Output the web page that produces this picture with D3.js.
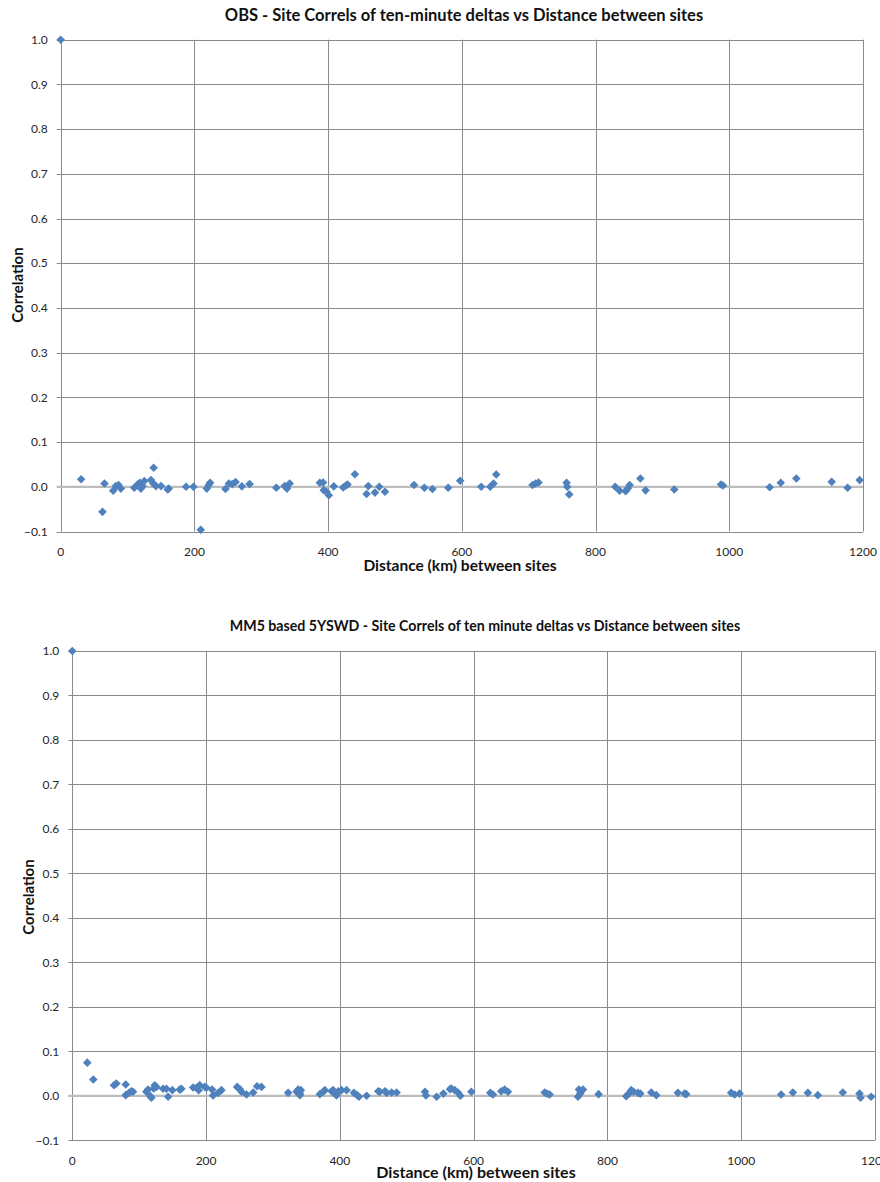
<!DOCTYPE html>
<html>
<head>
<meta charset="utf-8">
<script src="https://cdn.jsdelivr.net/npm/d3@7"></script>
<style>
  html, body { margin: 0; padding: 0; background: #fff; }
  svg { display: block; font-family: Lato, "Open Sans", sans-serif; }
</style>
</head>
<body>
<svg id="chart" width="880" height="1182"></svg>
<script>
// ---------- DATA ----------
const xTicks = [0, 200, 400, 600, 800, 1000, 1200];
const yTicks = [-0.1, 0.0, 0.1, 0.2, 0.3, 0.4, 0.5, 0.6, 0.7, 0.8, 0.9, 1.0];

const obsTitle = "OBS - Site Correls of ten-minute deltas vs Distance between sites";
const obsDistance = [0, 30.5, 62.5, 65.5, 78.5, 82.5, 86.5, 90, 110, 115, 118.5, 120, 125, 122.5, 135, 139, 138.5, 142.5, 150, 160, 161.5,
  187.5, 198.5, 209.5, 218.5, 221.5, 223.5, 246.5, 251.5, 256.5, 261.5, 271, 282.5, 322.5, 335, 338.5, 342.5,
  387.5, 392.5, 393.5, 397.5, 401, 408.5, 422.5, 426.5, 429, 440, 457.5, 460, 470, 476.5, 485, 528.5, 544, 556, 579.5,
  597.5, 629, 642.4, 647.4, 651.4, 705.7, 710.2, 714.7, 756.6, 757.6, 760.6, 829.4, 836, 845, 848, 851, 867, 874.8,
  917.7, 987.6, 990.6, 1060.5, 1077, 1100.3, 1153.2, 1177, 1195];
const obsCorrel = [1.0, 0.017, -0.056, 0.0075, -0.009, 0.0015, 0.004, -0.004, -0.002, 0.005, 0.009, -0.004, 0.013, 0.0015, 0.015, 0.0425, 0.0075, 0.0015, 0.0015, -0.006, -0.004,
  0, 0, -0.096, -0.004, 0.004, 0.009, -0.005, 0.0075, 0.006, 0.0105, 0.001, 0.006, -0.002, 0.0015, -0.004, 0.0075,
  0.009, 0.0095, -0.0075, -0.011, -0.019, 0.001, -0.0015, 0.003, 0.005, 0.028, -0.016, 0.0015, -0.013, 0, -0.011, 0.004, -0.002, -0.005, -0.002,
  0.0134, 0, 0, 0.0075, 0.0276, 0.004, 0.0075, 0.0097, 0.009, 0, -0.017, 0, -0.009, -0.0097, -0.004, 0.004, 0.0187, -0.008,
  -0.006, 0.005, 0.003, -0.001, 0.009, 0.0187, 0.011, -0.002, 0.015];

const mm5Title = "MM5 based 5YSWD - Site Correls of ten minute deltas vs Distance between sites";
const mm5Distance = [0, 22.4, 31.4, 62.3, 65.8, 79.8, 79.8, 84.8, 88.3, 90.8, 110.7, 113.2, 116.7, 118.2, 121.7, 123.2, 125.7, 135.7, 140.7, 143.2, 149.6,
  160.6, 163.1, 180.6, 185.6, 190.5, 189, 198, 200.5, 209, 210.5, 218, 223, 246.4, 250.4, 252.9, 260.4, 270.4, 276.3, 282.8,
  322.7, 335.2, 337.7, 340.2, 341.7, 340.2, 370.1, 375.1, 377.6, 387.6, 390, 392.6, 395, 397.6, 402.5, 410, 421, 426, 428.5, 440,
  457.4, 459.9, 467.4, 469.9, 477.4, 484.8, 527.2, 528.7, 544.7, 554.7, 564.6, 566.6, 571.6, 576.6, 580.1, 596.5,
  624.9, 628.9, 641.3, 646.3, 651.3, 706.1, 709.6, 713.6, 755.9, 757.4, 759.4, 763.4, 786.8, 828.1, 832.1, 835.6, 839.1, 845.6, 849.1,
  865.5, 873, 905.3, 915.3, 917.8, 985, 990, 997.5, 1059.7, 1077.2, 1099.6, 1114.5, 1151.9, 1176.8, 1178.3, 1194.2];
const mm5Correl = [1.0, 0.0746, 0.0366, 0.0239, 0.0276, 0.0254, 0.0015, 0.0067, 0.0104, 0.009, 0.009, 0.014, -0.0007, -0.0045, 0.0164, 0.0239, 0.02, 0.016, 0.016, -0.002, 0.0127,
  0.014, 0.016, 0.0187, 0.018, 0.024, 0.0127, 0.02, 0.018, 0.014, 0.0007, 0.0067, 0.0127, 0.02, 0.015, 0.009, 0.003, 0.0075, 0.0216, 0.02,
  0.0067, 0.009, 0.014, 0.005, 0.0127, 0.0015, 0.0037, 0.009, 0.0127, 0.0104, 0.0127, 0.005, 0.0007, 0.0104, 0.0127, 0.0127, 0.0067, 0.0015, -0.002, 0,
  0.0104, 0.009, 0.0104, 0.0067, 0.0075, 0.0075, 0.009, 0.0007, -0.002, 0.005, 0.015, 0.0164, 0.0127, 0.0075, 0, 0.009,
  0.0067, 0.003, 0.0104, 0.014, 0.009, 0.0075, 0.005, 0.003, -0.002, 0.014, 0.005, 0.014, 0.0037, -0.0007, 0.005, 0.0127, 0.009, 0.0067, 0.005,
  0.0075, 0.0015, 0.0067, 0.005, 0.0037, 0.0067, 0.003, 0.005, 0.003, 0.0075, 0.0067, 0.0015, 0.0075, 0.005, -0.0045, -0.002];

const xLabel = "Distance (km) between sites";
const yLabel = "Correlation";

// ---------- DRAW ----------
const svg = d3.select("#chart");
const markerColor = "#4F81BD";
const gridColor = "#8a8a8a";

function drawPanel(opt) {
  const x = d3.scaleLinear().domain([0, 1200]).range([opt.left, opt.right]);
  const y = d3.scaleLinear().domain([-0.1, 1.0]).range([opt.bottom, opt.top]);
  const g = svg.append("g");

  g.append("g").selectAll("line").data(yTicks.filter(v => Math.abs(v) > 1e-9)).join("line")
    .attr("x1", opt.left - 4).attr("x2", opt.right)
    .attr("y1", d => Math.round(y(d)) + 0.5).attr("y2", d => Math.round(y(d)) + 0.5)
    .attr("stroke", gridColor).attr("stroke-width", 1);

  g.append("g").selectAll("line").data(xTicks.filter(v => v > 0)).join("line")
    .attr("x1", d => Math.round(x(d)) + 0.5).attr("x2", d => Math.round(x(d)) + 0.5)
    .attr("y1", opt.top).attr("y2", opt.bottom)
    .attr("stroke", gridColor).attr("stroke-width", 1);

  g.append("line")
    .attr("x1", Math.round(opt.left) + 0.5).attr("x2", Math.round(opt.left) + 0.5)
    .attr("y1", opt.top).attr("y2", opt.bottom)
    .attr("stroke", gridColor).attr("stroke-width", 1);

  g.append("line")
    .attr("x1", opt.left - 4).attr("x2", opt.right)
    .attr("y1", y(0)).attr("y2", y(0))
    .attr("stroke", "#bdbdbd").attr("stroke-width", 2.2);

  g.append("g").selectAll("text").data(yTicks).join("text")
    .attr("x", opt.left - 13).attr("y", d => y(d))
    .attr("dy", "0.35em").attr("text-anchor", "end")
    .attr("font-size", 12).attr("fill", "#262626")
    .text(d => d3.format(".1f")(d));

  g.append("g").selectAll("text").data(xTicks).join("text")
    .attr("x", d => x(d)).attr("y", opt.bottom + 20)
    .attr("dy", "0.35em").attr("text-anchor", "middle")
    .attr("font-size", 12).attr("fill", "#262626")
    .text(d => d);

  const pts = opt.dist.map((d, i) => [d, opt.corr[i]]);
  const r = 4.3;
  g.append("g").selectAll("path").data(pts).join("path")
    .attr("transform", d => `translate(${x(d[0])},${y(d[1])})`)
    .attr("d", `M0,${-r}L${r},0L0,${r}L${-r},0Z`)
    .attr("fill", markerColor);

  svg.append("text")
    .attr("x", opt.titleX).attr("y", opt.titleY)
    .attr("text-anchor", "middle").attr("font-size", opt.titleSize).attr("font-weight", "bold")
    .attr("fill", "#111")
    .text(opt.title);

  svg.append("text")
    .attr("x", opt.xlabX).attr("y", opt.xlabY)
    .attr("text-anchor", "middle").attr("font-size", opt.xlabSize).attr("font-weight", "bold")
    .attr("fill", "#111")
    .text(xLabel);

  svg.append("text")
    .attr("transform", `translate(${opt.ylabX},${opt.ylabY}) rotate(-90)`)
    .attr("text-anchor", "middle").attr("font-size", 15).attr("font-weight", "bold")
    .attr("fill", "#111")
    .text(yLabel);
}

drawPanel({
  left: 60.7, right: 863, top: 39.7, bottom: 531.5,
  dist: obsDistance, corr: obsCorrel, title: obsTitle,
  titleX: 464, titleY: 21, titleSize: 16.5,
  xlabX: 460, xlabY: 571, xlabSize: 15.5, ylabX: 23, ylabY: 285
});

drawPanel({
  left: 72.3, right: 875, top: 651, bottom: 1140.3,
  dist: mm5Distance, corr: mm5Correl, title: mm5Title,
  titleX: 485, titleY: 631, titleSize: 14.2,
  xlabX: 476, xlabY: 1178, xlabSize: 16, ylabX: 34, ylabY: 897
});
</script>
</body>
</html>
